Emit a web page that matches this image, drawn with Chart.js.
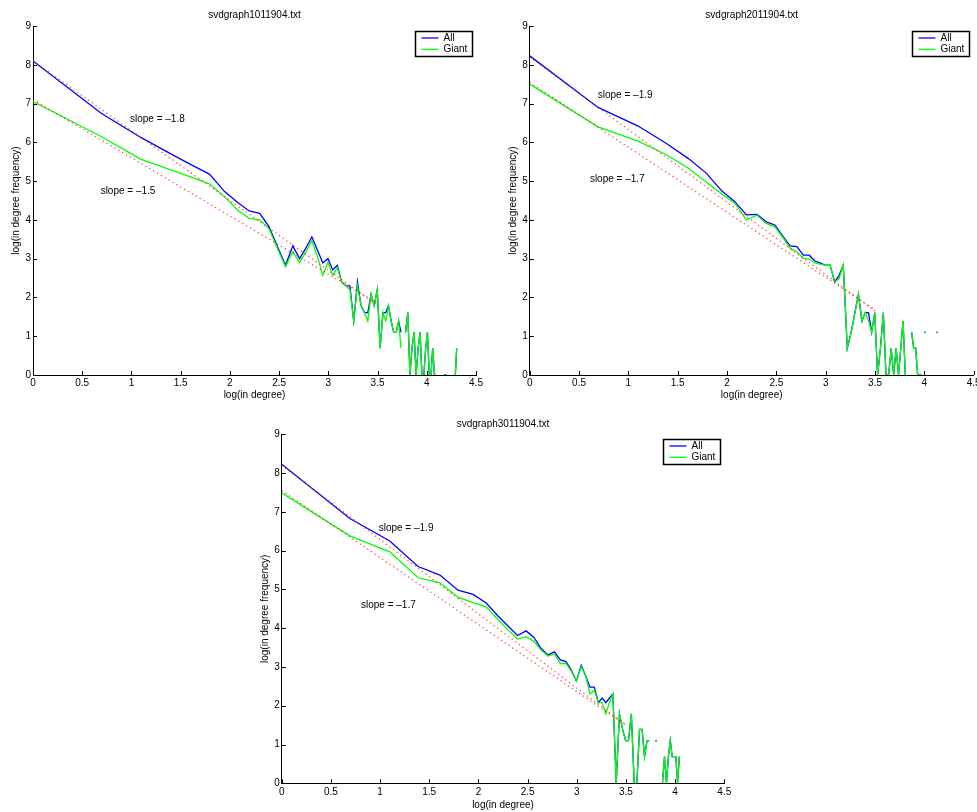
<!DOCTYPE html>
<html>
<head>
<meta charset="utf-8">
<script src="https://cdn.jsdelivr.net/npm/chart.js@4.4.0/dist/chart.umd.min.js"></script>
<style>
  html, body { margin: 0; padding: 0; background: #fff; width: 977px; height: 812px; overflow: hidden; }
  canvas { position: absolute; }
</style>
</head>
<body>
<canvas id="plotA" width="488" height="406" style="left:0;top:0"></canvas>
<canvas id="plotB" width="500" height="406" style="left:488px;top:0"></canvas>
<canvas id="plotC" width="500" height="406" style="left:240px;top:406px"></canvas>
<script>
// x values: log(in degree) for degree 1..74
const logDegree = [
  0, 0.693, 1.099, 1.386, 1.609, 1.792, 1.946, 2.079, 2.197, 2.303,
  2.398, 2.485, 2.565, 2.639, 2.708, 2.773, 2.833, 2.890, 2.944, 2.996,
  3.045, 3.091, 3.135, 3.178, 3.219, 3.258, 3.296, 3.332, 3.367, 3.401,
  3.434, 3.466, 3.497, 3.526, 3.555, 3.584, 3.611, 3.638, 3.664, 3.689,
  3.714, 3.738, 3.761, 3.784, 3.807, 3.829, 3.850, 3.871, 3.892, 3.912,
  3.932, 3.951, 3.970, 3.989, 4.007, 4.025, 4.043, 4.060, 4.078, 4.094,
  4.111, 4.127, 4.143, 4.159, 4.174, 4.190, 4.205, 4.220, 4.234, 4.248,
  4.263, 4.277, 4.290, 4.304
];

const titles = ['svdgraph1011904.txt', 'svdgraph2011904.txt', 'svdgraph3011904.txt'];
const seriesNames = ['All', 'Giant'];
const xTicks = [0, 0.5, 1, 1.5, 2, 2.5, 3, 3.5, 4, 4.5];

// log(in degree frequency), null = no node with that degree
const allA = [
  8.10, 6.75, 6.12, 5.72, 5.42, 5.18, 4.73, 4.45, 4.23, 4.17,
  3.82, 3.30, 2.83, 3.33, 3.00, 3.28, 3.56, 3.22, 2.89, 3.00,
  2.71, 2.83, 2.40, 2.30, 2.30, 1.39, 2.40, 1.79, 1.61, 1.61,
  2.08, 1.79, 2.20, 0.69, 1.61, 1.61, 1.79, 1.39, 1.10, 1.10,
  1.39, 1.10, null, 1.10, 1.61, 0, 0.69, 1.10, 0, 0.69,
  1.10, 0, 0, 0.69, 1.10, 0, 0, 0.69, 0, 0,
  null, null, null, null, 0, 0, 0, null, null, null,
  null, null, 0, 0.69
];
const giantA = [
  7.05, 6.15, 5.56, 5.30, 5.10, 4.93, 4.60, 4.25, 4.04, 4.00,
  3.77, 3.25, 2.79, 3.18, 2.90, 3.18, 3.46, 3.05, 2.57, 2.90,
  2.57, 2.77, 2.40, 2.30, 2.20, 1.39, 2.30, 1.79, 1.61, 1.39,
  2.08, 1.79, 2.20, 0.69, 1.61, 1.39, 1.79, 1.39, 1.10, 1.10,
  1.39, 0.69, null, 1.10, 1.61, 0, 0.69, 1.10, 0, 0.69,
  1.10, 0, 0, 0.69, 1.10, 0, 0, 0.69, 0, 0,
  null, null, null, null, 0, 0, 0, null, null, null,
  null, null, 0, 0.69
];
const allB = [
  8.23, 6.90, 6.42, 5.97, 5.58, 5.20, 4.75, 4.47, 4.13, 4.14,
  3.95, 3.87, 3.58, 3.33, 3.31, 3.09, 3.09, 2.94, 2.89, 2.83,
  2.83, 2.40, 2.56, 2.83, 0.69, 1.10, 1.61, 2.08, 1.39, 1.61,
  1.61, 1.10, 1.61, 0, 0.69, 1.61, 0, 0, 0.69, 0,
  0.69, 0, 0.69, 1.39, 0, null, null, 1.10, 0.69, 0.69,
  0, 0, 0, null, 1.10, null, null, null, null, null,
  null, 1.10
];
const giantB = [
  7.50, 6.40, 6.03, 5.68, 5.33, 4.97, 4.67, 4.43, 4.00, 4.12,
  3.91, 3.82, 3.55, 3.27, 3.18, 3.01, 2.99, 2.89, 2.86, 2.83,
  2.83, 2.40, 2.48, 2.83, 0.69, 1.10, 1.61, 2.08, 1.39, 1.61,
  1.39, 1.10, 1.61, 0, 0.69, 1.61, 0, 0, 0.69, 0,
  0.69, 0, 0.69, 1.39, 0, null, null, 1.10, 0.69, 0.69,
  0, 0, 0, null, 1.10, null, null, null, null, null,
  null, 1.10
];
const allC = [
  8.23, 6.83, 6.25, 5.59, 5.37, 4.98, 4.87, 4.65, 4.32, 4.05,
  3.81, 3.93, 3.76, 3.47, 3.31, 3.39, 3.18, 3.14, 2.92, 2.64,
  3.04, 2.77, 2.48, 2.48, 2.08, 2.20, 2.08, 2.20, 2.30, 0,
  1.79, 1.39, 1.10, 1.10, 1.79, 0, 0, 1.39, 1.39, 0.69,
  1.10, 1.10, null, null, 1.10, null, null, 0, 0.69, 0,
  0.69, 1.10, 0.69, 0.69, 0.69, 0, 0.69
];
const giantC = [
  7.49, 6.38, 5.97, 5.30, 5.17, 4.80, 4.66, 4.55, 4.23, 3.95,
  3.72, 3.78, 3.66, 3.43, 3.28, 3.33, 3.09, 3.09, 2.89, 2.64,
  3.00, 2.77, 2.30, 2.40, 2.08, 2.08, 1.79, 2.08, 2.30, 0,
  1.79, 1.39, 1.10, 1.10, 1.79, 0, 0, 1.39, 1.39, 0.69,
  1.10, 1.10, null, null, 1.10, null, null, 0, 0.69, 0,
  0.69, 1.10, 0.69, 0.69, 0.69, 0, 0.69
];

// fitted power-law lines (dotted red), two end points each
const fitX = [0, 3.5];
const fitAllA = [8.10, 1.80], fitGiantA = [7.10, 1.85];
const fitAllB = [8.20, 1.65], fitGiantB = [7.55, 1.68];
const fitAllC = [8.20, 1.50], fitGiantC = [7.55, 1.50];

const slopeText = [
  ['slope = \u20131.8', 'slope = \u20131.5'],
  ['slope = \u20131.9', 'slope = \u20131.7'],
  ['slope = \u20131.9', 'slope = \u20131.7']
];

const FONT = { family: '"Liberation Sans", Arial, Helvetica, sans-serif', size: 10, weight: 'normal' };

const toPoints = (xs, ys) => ys.map((y, i) => ({ x: xs[i], y: y }));

// a lone point between gaps shows up as a dot
const loneRadius = ctx => {
  const d = ctx.dataset.data, i = ctx.dataIndex;
  if (d[i].y === null) return 0;
  const prev = d[i - 1], next = d[i + 1];
  return ((!prev || prev.y === null) && (!next || next.y === null)) ? 0.9 : 0;
};

// MATLAB draws its tick marks inside the axes
const innerTicks = {
  id: 'innerTicks',
  afterDraw(chart) {
    const ctx = chart.ctx, area = chart.chartArea;
    const xs = chart.scales.x, ys = chart.scales.y;
    ctx.save();
    ctx.strokeStyle = '#000';
    ctx.lineWidth = 1;
    ctx.beginPath();
    xs.ticks.forEach(t => {
      const px = Math.round(xs.getPixelForValue(t.value)) + 0.5;
      ctx.moveTo(px, area.bottom);
      ctx.lineTo(px, area.bottom - 4);
    });
    ys.ticks.forEach(t => {
      const py = Math.round(ys.getPixelForValue(t.value)) + 0.5;
      ctx.moveTo(area.left, py);
      ctx.lineTo(area.left + 4, py);
    });
    ctx.stroke();
    ctx.restore();
  }
};

// MATLAB style legend box + slope notes
const decor = {
  id: 'decor',
  afterDatasetsDraw(chart, args, opts) {
    const ctx = chart.ctx, area = chart.chartArea;
    const xs = chart.scales.x, ys = chart.scales.y;
    ctx.save();
    ctx.font = FONT.size + 'px ' + FONT.family;
    ctx.textBaseline = 'middle';
    ctx.textAlign = 'left';
    ctx.fillStyle = '#000';
    opts.notes.forEach(n => ctx.fillText(n.text, xs.getPixelForValue(n.x), ys.getPixelForValue(n.y)));

    const items = chart.data.datasets.filter(d => d.inLegend);
    const w = 57, h = 25;
    const left = Math.round(area.right - 4.5 - w) + 0.5, top = Math.round(area.top + 5) + 0.5;
    ctx.fillStyle = '#fff';
    ctx.fillRect(left, top, w, h);
    ctx.strokeStyle = '#000';
    ctx.lineWidth = 1.5;
    ctx.strokeRect(left, top, w, h);
    items.forEach((d, i) => {
      const y = top + 6.5 + i * 11.3;
      ctx.strokeStyle = d.borderColor;
      ctx.lineWidth = 1.3;
      ctx.beginPath();
      ctx.moveTo(left + 6, y);
      ctx.lineTo(left + 23, y);
      ctx.stroke();
      ctx.fillStyle = '#000';
      ctx.fillText(d.label, left + 28, y);
    });
    ctx.restore();
  }
};

function makePlot(id, idx, all, giant, fitAll, fitGiant, notes, box) {
  const line = (label, ys, color, order) => ({
    label: label, data: toPoints(logDegree, ys), showLine: true, inLegend: true,
    borderColor: color, backgroundColor: color, borderWidth: 1.3,
    pointRadius: loneRadius, pointBorderWidth: 0, pointBackgroundColor: color,
    spanGaps: false, order: order
  });
  const fit = (ys) => ({
    data: toPoints(fitX, ys), showLine: true, borderColor: 'rgba(255,30,30,0.85)',
    borderWidth: 1.2, borderDash: [1.3, 3.2], pointRadius: 0, order: 1
  });
  new Chart(document.getElementById(id), {
    type: 'scatter',
    data: {
      datasets: [
        line(seriesNames[0], all, '#0000ff', 3),
        line(seriesNames[1], giant, '#00ff00', 2),
        fit(fitAll),
        fit(fitGiant)
      ]
    },
    options: {
      responsive: false,
      animation: false,
      events: [],
      layout: { padding: { left: box.left, right: box.right, top: 0, bottom: 0 } },
      plugins: {
        legend: { display: false },
        tooltip: { enabled: false },
        title: {
          display: true, text: titles[idx], color: '#000', font: FONT, fullSize: false,
          padding: { top: box.titleTop, bottom: box.titleBottom }
        },
        decor: { notes: notes }
      },
      scales: {
        x: {
          type: 'linear', min: 0, max: 4.5,
          afterBuildTicks: s => { s.ticks = xTicks.map(v => ({ value: v })); },
          ticks: { color: '#000', font: FONT, padding: box.xPad, maxRotation: 0, autoSkip: false,
                   callback: v => String(v) },
          grid: { display: false, drawTicks: false },
          border: { display: true, color: '#000', width: 1 },
          title: { display: true, text: 'log(in degree)', color: '#000', font: FONT, padding: { top: 0, bottom: box.xTitle } },
          afterFit: s => { s.height = box.xH; }
        },
        y: {
          type: 'linear', min: 0, max: 9,
          ticks: { stepSize: 1, color: '#000', font: FONT, padding: 2 },
          grid: { display: false, drawTicks: false },
          border: { display: true, color: '#000', width: 1 },
          title: { display: true, text: 'log(in degree frequency)', color: '#000', font: FONT, padding: { top: 10.5, bottom: 0 } },
          afterFit: s => { s.width = 33; }
        }
      }
    },
    plugins: [innerTicks, decor]
  });
}

makePlot('plotA', 0, allA, giantA, fitAllA, fitGiantA, [
  { text: slopeText[0][0], x: 0.985, y: 6.60 },
  { text: slopeText[0][1], x: 0.687, y: 4.75 }
], { left: 0, right: 12, titleTop: 9, titleBottom: 5, xH: 31, xPad: 2, xTitle: 4.5 });

makePlot('plotB', 1, allB, giantB, fitAllB, fitGiantB, [
  { text: slopeText[1][0], x: 0.69, y: 7.22 },
  { text: slopeText[1][1], x: 0.61, y: 5.05 }
], { left: 8.7, right: 14.3, titleTop: 9, titleBottom: 5, xH: 31, xPad: 2, xTitle: 4.5 });

makePlot('plotC', 2, allC, giantC, fitAllC, fitGiantC, [
  { text: slopeText[2][0], x: 0.986, y: 6.59 },
  { text: slopeText[2][1], x: 0.806, y: 4.58 }
], { left: 8.7, right: 15.7, titleTop: 12, titleBottom: 4.3, xH: 28.7, xPad: 3.4, xTitle: 1 });
</script>
</body>
</html>
